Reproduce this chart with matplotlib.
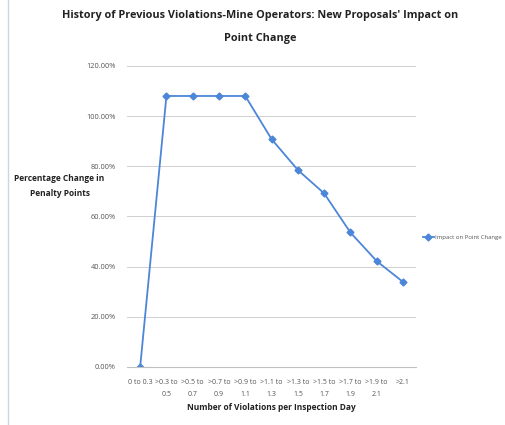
import matplotlib
matplotlib.use("Agg")
import matplotlib.pyplot as plt
from matplotlib.ticker import FuncFormatter

categories = ["0 to 0.3", ">0.3 to\n0.5", ">0.5 to\n0.7", ">0.7 to\n0.9", ">0.9 to\n1.1",
              ">1.1 to\n1.3", ">1.3 to\n1.5", ">1.5 to\n1.7", ">1.7 to\n1.9", ">1.9 to\n2.1", ">2.1"]
impact = [0.0, 108.0, 108.0, 108.0, 108.0, 90.8, 78.5, 69.2, 53.6, 42.2, 33.9]
y_ticks = [0, 20, 40, 60, 80, 100, 120]

plt.rcParams['font.family'] = ['Open Sans', 'DejaVu Sans']

fig = plt.figure(figsize=(5.05, 4.25), dpi=100)
ax = fig.add_axes([0.2515, 0.1365, 0.5725, 0.7085])

line_color = "#4C86D8"
x = list(range(len(categories)))
ax.plot(x, impact, color=line_color, lw=1.3, marker="D", markersize=3.5,
        markerfacecolor=line_color, markeredgecolor=line_color, label="Impact on Point Change")

ax.set_xlim(-0.5, len(categories) - 0.5)
ax.set_ylim(0, 120)
ax.set_yticks(y_ticks)
ax.yaxis.set_major_formatter(FuncFormatter(lambda v, p: f"{v:.2f}%"))
ax.set_xticks(x)
ax.set_xticklabels(categories, fontsize=5, color="#555555", linespacing=2.0)
ax.tick_params(axis="y", labelsize=5.3, labelcolor="#555555", length=0, pad=8)
ax.tick_params(axis="x", length=0, pad=9)

ax.grid(axis="y", color="#D0D0D0", lw=0.7)
ax.set_axisbelow(True)
for s in ["top", "right", "left"]:
    ax.spines[s].set_visible(False)
ax.spines["bottom"].set_color("#C0C0C0")
ax.spines["bottom"].set_linewidth(0.8)

fig.text(0.516, 0.977, "History of Previous Violations-Mine Operators: New Proposals' Impact on\nPoint Change",
         ha="center", va="top", fontsize=7.8, fontweight="bold", color="#222222", linespacing=2.5)
fig.text(0.118, 0.562, "Percentage Change in\nPenalty Points", ha="center", va="center",
         fontsize=6, fontweight="bold", color="#222222", linespacing=1.9)
fig.text(0.5375, 0.04, "Number of Violations per Inspection Day", ha="center", va="center",
         fontsize=6, fontweight="bold", color="#222222")

ax.legend(loc="center left", bbox_to_anchor=(1.005, 0.43), frameon=False,
          fontsize=4.3, handlelength=1.8, handletextpad=0.2, labelcolor="#555555")

fig.add_artist(plt.Line2D([0.016, 0.016], [0.0, 1.0], color="#C8D4E8", lw=1.0))

fig.savefig("out.png", dpi=100)
